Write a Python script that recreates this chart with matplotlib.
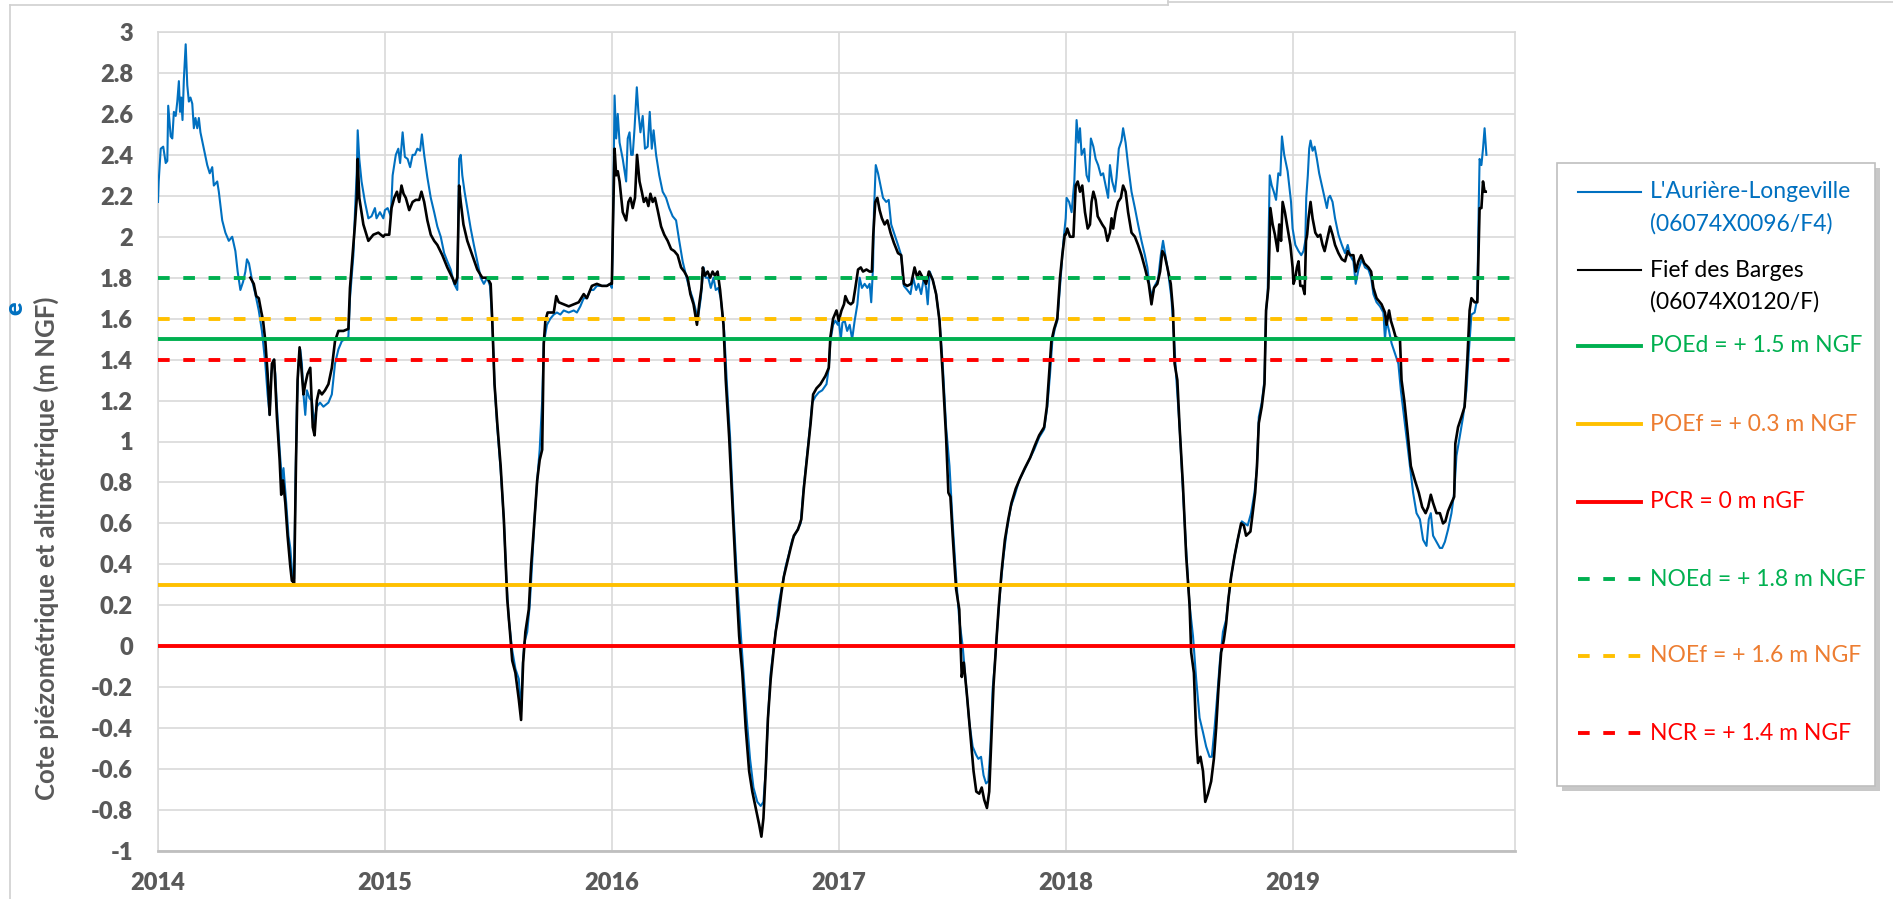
import numpy as np
import matplotlib
matplotlib.use("Agg")
import matplotlib.pyplot as plt
from matplotlib.lines import Line2D
from matplotlib.patches import Rectangle

plt.rcParams['font.family'] = ['Lato', 'DejaVu Sans']

W, H = 1893, 899

# --- piezometer levels, time given as fraction of each calendar year ---
BLUE_T = {
    2014: [0.000, 0.003, 0.012, 0.023, 0.034, 0.041, 0.045, 0.056, 0.063, 0.070, 0.078, 0.085, 0.092,
           0.097, 0.102, 0.108, 0.114, 0.122, 0.129, 0.136, 0.143, 0.151, 0.158, 0.165, 0.173, 0.180,
           0.187, 0.202, 0.217, 0.228, 0.239, 0.246, 0.261, 0.268, 0.283, 0.297, 0.312, 0.327, 0.341,
           0.351, 0.363, 0.375, 0.385, 0.392, 0.401, 0.414, 0.429, 0.444, 0.458, 0.473, 0.483, 0.492,
           0.499, 0.510, 0.517, 0.524, 0.536, 0.546, 0.553, 0.565, 0.575, 0.583, 0.594, 0.600, 0.606,
           0.612, 0.619, 0.627, 0.634, 0.641, 0.649, 0.656, 0.668, 0.678, 0.688, 0.700, 0.714, 0.729,
           0.751, 0.766, 0.780, 0.795, 0.810, 0.824, 0.839, 0.846, 0.861, 0.868, 0.876, 0.880, 0.887,
           0.897, 0.912, 0.927, 0.941, 0.956, 0.963, 0.978, 0.993],
    2015: [0.000, 0.012, 0.026, 0.034, 0.048, 0.059, 0.067, 0.078, 0.088, 0.100, 0.111, 0.122, 0.132,
           0.143, 0.155, 0.163, 0.173, 0.187, 0.202, 0.217, 0.231, 0.246, 0.261, 0.275, 0.290, 0.305,
           0.319, 0.327, 0.334, 0.341, 0.351, 0.363, 0.378, 0.392, 0.407, 0.422, 0.436, 0.451, 0.463,
           0.473, 0.483, 0.495, 0.510, 0.524, 0.536, 0.546, 0.561, 0.575, 0.590, 0.600, 0.608, 0.615,
           0.627, 0.638, 0.649, 0.659, 0.671, 0.682, 0.693, 0.700, 0.714, 0.729, 0.744, 0.758, 0.773,
           0.788, 0.810, 0.832, 0.846, 0.861, 0.876, 0.890, 0.905, 0.919, 0.934, 0.956, 0.978, 0.993],
    2016: [0.000, 0.004, 0.012, 0.019, 0.026, 0.034, 0.048, 0.063, 0.070, 0.078, 0.085, 0.092, 0.100,
           0.110, 0.117, 0.126, 0.136, 0.146, 0.158, 0.167, 0.176, 0.184, 0.195, 0.209, 0.224, 0.239,
           0.253, 0.268, 0.283, 0.297, 0.312, 0.327, 0.341, 0.356, 0.370, 0.378, 0.392, 0.404, 0.414,
           0.425, 0.436, 0.448, 0.458, 0.469, 0.480, 0.495, 0.507, 0.521, 0.536, 0.551, 0.565, 0.580,
           0.594, 0.609, 0.624, 0.641, 0.656, 0.668, 0.678, 0.688, 0.700, 0.714, 0.726, 0.736, 0.751,
           0.766, 0.780, 0.795, 0.814, 0.832, 0.843, 0.858, 0.873, 0.883, 0.897, 0.912, 0.927, 0.946,
           0.956, 0.963, 0.975, 0.985, 0.996],
    2017: [0.000, 0.009, 0.016, 0.026, 0.037, 0.048, 0.059, 0.070, 0.082, 0.092, 0.102, 0.114, 0.126,
           0.136, 0.143, 0.151, 0.155, 0.163, 0.173, 0.184, 0.195, 0.209, 0.220, 0.231, 0.246, 0.261,
           0.275, 0.287, 0.302, 0.316, 0.328, 0.341, 0.351, 0.363, 0.375, 0.385, 0.392, 0.401, 0.414,
           0.429, 0.444, 0.458, 0.473, 0.488, 0.502, 0.517, 0.531, 0.546, 0.561, 0.575, 0.590, 0.605,
           0.615, 0.627, 0.638, 0.649, 0.659, 0.668, 0.678, 0.688, 0.700, 0.712, 0.726, 0.741, 0.758,
           0.776, 0.795, 0.817, 0.839, 0.861, 0.883, 0.905, 0.919, 0.931, 0.941, 0.952, 0.963, 0.978,
           0.990],
    2018: [0.000, 0.004, 0.015, 0.026, 0.038, 0.048, 0.056, 0.063, 0.070, 0.082, 0.092, 0.102, 0.111,
           0.122, 0.132, 0.143, 0.155, 0.165, 0.176, 0.187, 0.195, 0.205, 0.217, 0.224, 0.234, 0.246,
           0.253, 0.264, 0.275, 0.290, 0.305, 0.319, 0.334, 0.349, 0.360, 0.370, 0.381, 0.392, 0.407,
           0.419, 0.429, 0.439, 0.451, 0.466, 0.477, 0.488, 0.502, 0.517, 0.531, 0.546, 0.561, 0.575,
           0.590, 0.605, 0.619, 0.634, 0.644, 0.656, 0.668, 0.679, 0.693, 0.707, 0.717, 0.729, 0.744,
           0.758, 0.776, 0.788, 0.802, 0.817, 0.832, 0.842, 0.851, 0.864, 0.876, 0.883, 0.890, 0.899,
           0.908, 0.917, 0.927, 0.937, 0.946, 0.953, 0.963, 0.978, 0.993],
    2019: [0.000, 0.012, 0.026, 0.038, 0.048, 0.056, 0.060, 0.067, 0.073, 0.079, 0.088, 0.097, 0.107,
           0.117, 0.129, 0.141, 0.151, 0.158, 0.165, 0.176, 0.187, 0.202, 0.217, 0.231, 0.243, 0.253,
           0.268, 0.278, 0.290, 0.305, 0.319, 0.334, 0.346, 0.356, 0.370, 0.385, 0.400, 0.407, 0.414,
           0.425, 0.436, 0.451, 0.466, 0.477, 0.488, 0.502, 0.517, 0.531, 0.546, 0.561, 0.575, 0.590,
           0.600, 0.609, 0.619, 0.634, 0.649, 0.659, 0.671, 0.685, 0.700, 0.712, 0.722, 0.736, 0.751,
           0.766, 0.776, 0.788, 0.802, 0.814, 0.820, 0.824, 0.832, 0.839, 0.846, 0.854],
}
BLUE_V = {
    2014: [2.17, 2.27, 2.43, 2.44, 2.36, 2.37, 2.64, 2.49, 2.48, 2.61, 2.59, 2.66, 2.76,
           2.61, 2.68, 2.57, 2.77, 2.94, 2.74, 2.66, 2.68, 2.65, 2.53, 2.58, 2.53, 2.58,
           2.51, 2.43, 2.35, 2.31, 2.34, 2.25, 2.27, 2.22, 2.08, 2.02, 1.98, 2.00, 1.93,
           1.83, 1.74, 1.78, 1.83, 1.89, 1.87, 1.79, 1.72, 1.64, 1.54, 1.38, 1.23, 1.13,
           1.33, 1.40, 1.33, 1.17, 0.96, 0.81, 0.87, 0.70, 0.54, 0.48, 0.32, 0.33, 0.81,
           1.17, 1.38, 1.45, 1.38, 1.23, 1.13, 1.25, 1.21, 1.20, 1.09, 1.17, 1.19, 1.17,
           1.19, 1.23, 1.38, 1.45, 1.49, 1.50, 1.51, 1.70, 1.91, 2.12, 2.32, 2.52, 2.38,
           2.27, 2.17, 2.09, 2.10, 2.14, 2.09, 2.12, 2.09],
    2015: [2.13, 2.14, 2.10, 2.30, 2.40, 2.43, 2.36, 2.51, 2.39, 2.38, 2.34, 2.40, 2.40,
           2.43, 2.42, 2.50, 2.40, 2.29, 2.19, 2.12, 2.05, 2.00, 1.92, 1.88, 1.84, 1.77,
           1.74, 2.38, 2.40, 2.30, 2.22, 2.14, 2.04, 1.96, 1.88, 1.80, 1.77, 1.80, 1.76,
           1.59, 1.28, 1.07, 0.86, 0.62, 0.31, 0.13, -0.02, -0.11, -0.16, -0.32, -0.08, 0.02,
           0.07, 0.20, 0.41, 0.62, 0.81, 0.96, 1.20, 1.48, 1.57, 1.60, 1.62, 1.63, 1.62,
           1.64, 1.63, 1.64, 1.63, 1.66, 1.70, 1.70, 1.74, 1.74, 1.76, 1.76, 1.76, 1.77],
    2016: [1.75, 1.96, 2.69, 2.48, 2.60, 2.46, 2.38, 2.27, 2.48, 2.51, 2.40, 2.40, 2.53,
           2.73, 2.61, 2.51, 2.59, 2.43, 2.44, 2.61, 2.43, 2.52, 2.40, 2.30, 2.22, 2.19,
           2.14, 2.10, 2.08, 1.98, 1.88, 1.81, 1.75, 1.70, 1.64, 1.59, 1.70, 1.85, 1.80,
           1.80, 1.75, 1.80, 1.74, 1.75, 1.70, 1.54, 1.28, 1.02, 0.65, 0.34, 0.11, -0.13,
           -0.35, -0.55, -0.69, -0.76, -0.78, -0.76, -0.61, -0.35, -0.13, 0.00, 0.11, 0.21, 0.30,
           0.39, 0.45, 0.52, 0.56, 0.60, 0.75, 0.91, 1.07, 1.19, 1.22, 1.24, 1.25, 1.28,
           1.36, 1.49, 1.57, 1.59, 1.57],
    2017: [1.59, 1.50, 1.58, 1.59, 1.54, 1.57, 1.50, 1.59, 1.67, 1.80, 1.75, 1.77, 1.75,
           1.77, 1.68, 1.85, 2.12, 2.35, 2.31, 2.25, 2.19, 2.17, 2.18, 2.06, 2.01, 1.96,
           1.91, 1.76, 1.74, 1.72, 1.80, 1.74, 1.77, 1.72, 1.80, 1.75, 1.67, 1.83, 1.79,
           1.72, 1.59, 1.38, 1.07, 0.88, 0.60, 0.34, 0.13, 0.00, -0.19, -0.37, -0.49, -0.53,
           -0.55, -0.54, -0.63, -0.67, -0.66, -0.50, -0.21, -0.08, 0.11, 0.28, 0.44, 0.57, 0.68,
           0.74, 0.81, 0.86, 0.91, 0.96, 1.02, 1.06, 1.17, 1.33, 1.49, 1.55, 1.59, 1.80,
           1.98],
    2018: [2.09, 2.19, 2.17, 2.12, 2.27, 2.57, 2.46, 2.53, 2.40, 2.43, 2.30, 2.27, 2.48,
           2.44, 2.38, 2.35, 2.30, 2.31, 2.25, 2.19, 2.35, 2.27, 2.22, 2.29, 2.43, 2.47,
           2.53, 2.46, 2.35, 2.22, 2.14, 2.06, 1.98, 1.91, 1.85, 1.75, 1.71, 1.76, 1.79,
           1.91, 1.98, 1.91, 1.83, 1.70, 1.51, 1.30, 1.07, 0.75, 0.47, 0.20, 0.05, -0.16,
           -0.35, -0.42, -0.49, -0.54, -0.54, -0.40, -0.24, -0.08, 0.07, 0.13, 0.23, 0.34, 0.44,
           0.52, 0.61, 0.60, 0.59, 0.65, 0.75, 0.86, 1.12, 1.19, 1.30, 1.64, 1.72, 2.30,
           2.25, 2.22, 2.18, 2.31, 2.30, 2.49, 2.40, 2.32, 2.17],
    2019: [2.04, 1.96, 1.93, 1.91, 1.93, 1.98, 2.19, 2.30, 2.43, 2.47, 2.42, 2.44, 2.38,
           2.31, 2.25, 2.19, 2.14, 2.19, 2.20, 2.17, 2.09, 2.01, 1.96, 1.92, 1.96, 1.91,
           1.88, 1.77, 1.84, 1.89, 1.85, 1.84, 1.80, 1.72, 1.68, 1.66, 1.63, 1.50, 1.59,
           1.54, 1.48, 1.43, 1.38, 1.25, 1.15, 1.02, 0.88, 0.75, 0.65, 0.62, 0.52, 0.49,
           0.62, 0.65, 0.54, 0.51, 0.48, 0.48, 0.51, 0.57, 0.65, 0.75, 0.93, 1.02, 1.12,
           1.25, 1.43, 1.62, 1.63, 1.70, 2.14, 2.38, 2.35, 2.43, 2.53, 2.40],
}

BLACK_T = {
    2014: [0.407, 0.422, 0.433, 0.444, 0.454, 0.463, 0.473, 0.483, 0.492, 0.502, 0.512, 0.524, 0.536,
           0.543, 0.551, 0.561, 0.571, 0.583, 0.590, 0.600, 0.608, 0.615, 0.624, 0.634, 0.641, 0.649,
           0.659, 0.671, 0.682, 0.690, 0.700, 0.710, 0.722, 0.736, 0.751, 0.766, 0.780, 0.795, 0.817,
           0.839, 0.846, 0.861, 0.868, 0.876, 0.880, 0.887, 0.905, 0.927, 0.949, 0.971, 0.993],
    2015: [0.000, 0.019, 0.029, 0.041, 0.053, 0.063, 0.073, 0.082, 0.092, 0.107, 0.122, 0.136, 0.151,
           0.161, 0.173, 0.187, 0.202, 0.217, 0.231, 0.253, 0.275, 0.297, 0.309, 0.319, 0.327, 0.334,
           0.346, 0.363, 0.385, 0.407, 0.429, 0.451, 0.466, 0.473, 0.483, 0.495, 0.510, 0.524, 0.539,
           0.551, 0.561, 0.575, 0.590, 0.600, 0.609, 0.619, 0.634, 0.644, 0.656, 0.671, 0.682, 0.693,
           0.700, 0.707, 0.717, 0.729, 0.744, 0.755, 0.766, 0.788, 0.810, 0.832, 0.854, 0.876, 0.890,
           0.912, 0.934, 0.956, 0.978, 0.993],
    2016: [0.000, 0.004, 0.012, 0.019, 0.026, 0.034, 0.048, 0.063, 0.073, 0.082, 0.092, 0.102, 0.111,
           0.122, 0.132, 0.141, 0.151, 0.161, 0.170, 0.180, 0.190, 0.202, 0.217, 0.231, 0.246, 0.261,
           0.275, 0.290, 0.305, 0.319, 0.334, 0.346, 0.360, 0.375, 0.385, 0.395, 0.401, 0.410, 0.422,
           0.433, 0.444, 0.454, 0.466, 0.477, 0.492, 0.502, 0.517, 0.531, 0.546, 0.561, 0.575, 0.590,
           0.605, 0.619, 0.634, 0.649, 0.659, 0.668, 0.678, 0.688, 0.700, 0.712, 0.722, 0.734, 0.747,
           0.758, 0.773, 0.788, 0.802, 0.820, 0.835, 0.846, 0.861, 0.876, 0.887, 0.902, 0.919, 0.941,
           0.956, 0.963, 0.975, 0.990],
    2017: [0.000, 0.012, 0.023, 0.029, 0.041, 0.053, 0.063, 0.073, 0.085, 0.097, 0.107, 0.122, 0.136,
           0.146, 0.152, 0.161, 0.170, 0.180, 0.190, 0.202, 0.214, 0.228, 0.243, 0.261, 0.275, 0.287,
           0.302, 0.319, 0.334, 0.346, 0.356, 0.370, 0.385, 0.397, 0.414, 0.429, 0.444, 0.458, 0.473,
           0.483, 0.492, 0.502, 0.517, 0.531, 0.542, 0.551, 0.565, 0.580, 0.594, 0.606, 0.619, 0.630,
           0.641, 0.653, 0.663, 0.673, 0.682, 0.693, 0.704, 0.717, 0.732, 0.747, 0.761, 0.780, 0.799,
           0.820, 0.843, 0.864, 0.883, 0.905, 0.917, 0.927, 0.937, 0.949, 0.963, 0.975, 0.985, 0.996],
    2018: [0.000, 0.007, 0.019, 0.034, 0.044, 0.053, 0.063, 0.073, 0.085, 0.097, 0.107, 0.114, 0.122,
           0.132, 0.141, 0.151, 0.161, 0.173, 0.184, 0.195, 0.202, 0.209, 0.220, 0.231, 0.243, 0.253,
           0.264, 0.275, 0.290, 0.305, 0.319, 0.334, 0.351, 0.366, 0.378, 0.389, 0.404, 0.416, 0.426,
           0.436, 0.448, 0.463, 0.473, 0.480, 0.492, 0.502, 0.517, 0.531, 0.546, 0.553, 0.565, 0.575,
           0.583, 0.594, 0.605, 0.615, 0.627, 0.641, 0.653, 0.663, 0.673, 0.685, 0.697, 0.707, 0.717,
           0.729, 0.744, 0.758, 0.773, 0.785, 0.795, 0.814, 0.824, 0.835, 0.843, 0.851, 0.864, 0.876,
           0.883, 0.893, 0.902, 0.912, 0.922, 0.934, 0.941, 0.949, 0.956, 0.966, 0.978, 0.990],
    2019: [0.000, 0.004, 0.012, 0.019, 0.026, 0.034, 0.044, 0.053, 0.059, 0.064, 0.070, 0.079, 0.088,
           0.100, 0.111, 0.122, 0.132, 0.141, 0.151, 0.165, 0.176, 0.187, 0.202, 0.217, 0.231, 0.243,
           0.253, 0.268, 0.278, 0.290, 0.302, 0.316, 0.334, 0.346, 0.356, 0.370, 0.392, 0.407, 0.414,
           0.425, 0.433, 0.444, 0.454, 0.473, 0.480, 0.492, 0.507, 0.521, 0.539, 0.556, 0.571, 0.586,
           0.597, 0.609, 0.619, 0.634, 0.649, 0.663, 0.673, 0.685, 0.700, 0.712, 0.717, 0.729, 0.744,
           0.758, 0.770, 0.780, 0.788, 0.802, 0.814, 0.824, 0.832, 0.839, 0.846, 0.851],
}
BLACK_V = {
    2014: [1.80, 1.77, 1.71, 1.70, 1.64, 1.59, 1.49, 1.33, 1.13, 1.38, 1.40, 1.12, 0.91,
           0.74, 0.81, 0.70, 0.54, 0.39, 0.32, 0.31, 0.89, 1.30, 1.46, 1.33, 1.23, 1.28,
           1.33, 1.36, 1.07, 1.03, 1.20, 1.25, 1.23, 1.25, 1.28, 1.36, 1.49, 1.54, 1.54,
           1.55, 1.75, 1.96, 2.06, 2.19, 2.38, 2.19, 2.06, 1.98, 2.01, 2.02, 2.00],
    2015: [2.01, 2.01, 2.14, 2.19, 2.22, 2.17, 2.25, 2.21, 2.19, 2.13, 2.17, 2.18, 2.18,
           2.22, 2.17, 2.08, 2.01, 1.98, 1.96, 1.91, 1.85, 1.80, 1.77, 1.80, 2.25, 2.17,
           2.06, 1.98, 1.91, 1.84, 1.80, 1.80, 1.77, 1.59, 1.28, 1.09, 0.88, 0.62, 0.23,
           0.07, -0.07, -0.13, -0.26, -0.36, -0.08, 0.07, 0.18, 0.39, 0.57, 0.81, 0.91, 0.96,
           1.48, 1.59, 1.63, 1.63, 1.63, 1.71, 1.68, 1.67, 1.66, 1.67, 1.68, 1.72, 1.70,
           1.76, 1.77, 1.76, 1.76, 1.77],
    2016: [1.77, 2.01, 2.43, 2.30, 2.32, 2.27, 2.12, 2.08, 2.17, 2.19, 2.14, 2.19, 2.40,
           2.27, 2.22, 2.17, 2.19, 2.15, 2.21, 2.17, 2.19, 2.13, 2.05, 2.01, 1.98, 1.94,
           1.93, 1.91, 1.85, 1.83, 1.80, 1.72, 1.67, 1.57, 1.67, 1.75, 1.85, 1.81, 1.83,
           1.80, 1.83, 1.81, 1.83, 1.74, 1.57, 1.30, 1.02, 0.70, 0.36, 0.05, -0.13, -0.40,
           -0.61, -0.71, -0.79, -0.87, -0.93, -0.84, -0.61, -0.35, -0.16, -0.03, 0.07, 0.15, 0.26,
           0.34, 0.41, 0.48, 0.54, 0.57, 0.62, 0.77, 0.93, 1.09, 1.23, 1.26, 1.28, 1.32,
           1.36, 1.51, 1.60, 1.64],
    2017: [1.59, 1.64, 1.67, 1.71, 1.68, 1.67, 1.68, 1.75, 1.84, 1.85, 1.83, 1.84, 1.83,
           1.83, 2.01, 2.17, 2.19, 2.13, 2.09, 2.06, 2.08, 2.02, 1.97, 1.92, 1.91, 1.77,
           1.76, 1.77, 1.85, 1.80, 1.83, 1.80, 1.77, 1.83, 1.79, 1.72, 1.59, 1.33, 1.02,
           0.75, 0.73, 0.54, 0.28, 0.18, -0.15, -0.08, -0.24, -0.43, -0.61, -0.71, -0.72, -0.69,
           -0.75, -0.79, -0.71, -0.43, -0.19, 0.00, 0.18, 0.36, 0.52, 0.62, 0.70, 0.77, 0.82,
           0.87, 0.92, 0.98, 1.03, 1.07, 1.17, 1.33, 1.49, 1.55, 1.60, 1.80, 1.91, 2.01],
    2018: [2.01, 2.04, 2.00, 2.00, 2.25, 2.27, 2.22, 2.25, 2.12, 2.04, 2.06, 2.17, 2.22,
           2.18, 2.10, 2.08, 2.06, 2.04, 1.98, 2.02, 2.09, 2.04, 2.12, 2.17, 2.19, 2.25,
           2.22, 2.12, 2.02, 2.00, 1.96, 1.91, 1.84, 1.77, 1.67, 1.75, 1.77, 1.83, 1.93,
           1.91, 1.85, 1.77, 1.64, 1.38, 1.30, 1.07, 0.78, 0.44, 0.20, -0.03, -0.13, -0.43,
           -0.57, -0.54, -0.61, -0.76, -0.72, -0.66, -0.55, -0.40, -0.21, -0.03, 0.03, 0.11, 0.23,
           0.34, 0.44, 0.52, 0.60, 0.59, 0.54, 0.56, 0.65, 0.75, 0.88, 1.09, 1.17, 1.28,
           1.64, 1.75, 2.14, 2.06, 2.01, 1.93, 2.06, 1.98, 2.17, 2.12, 2.04, 1.96],
    2019: [1.85, 1.77, 1.80, 1.85, 1.88, 1.76, 1.76, 1.72, 1.98, 2.01, 2.09, 2.17, 2.09,
           2.02, 2.00, 2.01, 1.96, 1.93, 1.98, 2.05, 2.01, 1.96, 1.92, 1.89, 1.88, 1.93,
           1.91, 1.91, 1.83, 1.88, 1.91, 1.87, 1.85, 1.83, 1.75, 1.70, 1.67, 1.63, 1.57,
           1.64, 1.59, 1.55, 1.51, 1.50, 1.30, 1.20, 1.04, 0.88, 0.81, 0.75, 0.68, 0.65,
           0.68, 0.74, 0.70, 0.65, 0.65, 0.60, 0.61, 0.66, 0.70, 0.73, 0.99, 1.07, 1.12,
           1.17, 1.40, 1.64, 1.70, 1.68, 1.68, 2.14, 2.14, 2.27, 2.22, 2.22],
}

YEARS = [2014, 2015, 2016, 2017, 2018, 2019]
YTICKS = [-1, -0.8, -0.6, -0.4, -0.2, 0, 0.2, 0.4, 0.6, 0.8, 1, 1.2, 1.4, 1.6, 1.8, 2,
          2.2, 2.4, 2.6, 2.8, 3]

SERIES_LABELS = ["L'Aurière-Longeville\n(06074X0096/F4)", "Fief des Barges\n(06074X0120/F)"]
SERIES_COLORS = ['#0070C0', '#000000']

THRESH_LABELS = ['POEd = + 1.5 m NGF', 'POEf = + 0.3 m NGF', 'PCR = 0 m nGF',
                 'NOEd = + 1.8 m NGF', 'NOEf = + 1.6 m NGF', 'NCR = + 1.4 m NGF']
THRESH_VALUES = [1.5, 0.3, 0.0, 1.8, 1.6, 1.4]
THRESH_COLORS = ['#00B050', '#FFC000', '#FF0000', '#00B050', '#FFC000', '#FF0000']
THRESH_TEXT_COLORS = ['#00B050', '#ED7D31', '#FF0000', '#00B050', '#ED7D31', '#FF0000']
THRESH_DASHED = [False, False, False, True, True, True]


def join(tdict, vdict):
    t, v = [], []
    for y in YEARS:
        t += [y + f for f in tdict[y]]
        v += vdict[y]
    return np.array(t), np.array(v)


def fx(px):
    return px / W


def fy(py):
    return 1 - py / H


GRAY = '#595959'
DASH = (3.0, 3.5)

fig = plt.figure(figsize=(W / 100, H / 100), dpi=100)
ax = fig.add_axes([fx(158), fy(851), fx(1515) - fx(158), fy(32) - fy(851)])

bt, bv = join(BLUE_T, BLUE_V)
kt, kv = join(BLACK_T, BLACK_V)
ax.plot(bt, bv, color=SERIES_COLORS[0], lw=1.5, zorder=3)
ax.plot(kt, kv, color=SERIES_COLORS[1], lw=1.9, zorder=4)

for val, col, dashed in zip(THRESH_VALUES, THRESH_COLORS, THRESH_DASHED):
    ln = ax.axhline(val, color=col, lw=2.8, zorder=5)
    if dashed:
        ln.set_dashes(DASH)
        ln.set_dash_capstyle('butt')

ax.set_xlim(2014, 2019.98)
ax.set_ylim(-1, 3)
ax.set_xticks(YEARS)
ax.set_xticklabels([str(y) for y in YEARS])
ax.set_yticks(YTICKS)
ax.set_yticklabels(['%g' % v for v in YTICKS])
ax.grid(True, color='#D9D9D9', lw=1.2, zorder=0)
ax.set_axisbelow(True)
ax.tick_params(axis='both', length=0, labelsize=17, labelcolor=GRAY)
ax.tick_params(axis='y', pad=18)
ax.tick_params(axis='x', pad=15)
for lab in ax.get_xticklabels() + ax.get_yticklabels():
    lab.set_fontweight('heavy')
for side in ['left', 'right', 'top']:
    ax.spines[side].set_color('#D9D9D9')
    ax.spines[side].set_linewidth(1.2)
ax.spines['bottom'].set_color('#BFBFBF')
ax.spines['bottom'].set_linewidth(2)

ax.set_ylabel('Cote piézométrique et altimétrique (m NGF)', fontsize=18.5,
              fontweight='bold', color=GRAY)
ax.yaxis.set_label_coords(-0.073, 0.37)

# blue title letter at the very left
fig.text(fx(15), fy(308), 'e', rotation=90, fontsize=18, fontweight='heavy',
         color='#0070C0', ha='center', va='center')

# screenshot frame lines
frame = dict(color='#D0D0D0', lw=1.2, transform=fig.transFigure)
fig.add_artist(Line2D([fx(10), fx(10)], [fy(5), 0], **frame))
fig.add_artist(Line2D([fx(10), fx(1168)], [fy(5), fy(5)], **frame))
fig.add_artist(Line2D([fx(1168), fx(1168)], [fy(5), 1], **frame))
fig.add_artist(Line2D([fx(1168), 1], [fy(2), fy(2)], **frame))

# legend box drawn by hand
lx0, lx1, ly0, ly1 = 1557, 1875, 163, 786
fig.add_artist(Rectangle((fx(lx0 + 5), fy(ly1 + 5)), fx(lx1 - lx0), fy(ly0) - fy(ly1),
                         transform=fig.transFigure, facecolor='#C8C8C8', edgecolor='none',
                         zorder=1))
fig.add_artist(Rectangle((fx(lx0), fy(ly1)), fx(lx1 - lx0), fy(ly0) - fy(ly1),
                         transform=fig.transFigure, facecolor='white', edgecolor='#BFBFBF',
                         lw=1.2, zorder=2))

rows_y = [192, 270, 346, 424, 502, 579, 656, 733]
labels = SERIES_LABELS + THRESH_LABELS
hcolors = SERIES_COLORS + THRESH_COLORS
tcolors = SERIES_COLORS + THRESH_TEXT_COLORS
hwidths = [1.5, 1.5] + [2.8] * 6
hdashed = [False, False] + THRESH_DASHED
for y, lab, hc, tc, lw, dsh in zip(rows_y, labels, hcolors, tcolors, hwidths, hdashed):
    ln = Line2D([fx(1578), fx(1641)], [fy(y), fy(y)], color=hc, lw=lw,
                transform=fig.transFigure, zorder=3)
    if dsh:
        ln.set_dashes(DASH)
        ln.set_dash_capstyle('butt')
    fig.add_artist(ln)
    for i, part in enumerate(lab.split('\n')):
        fig.text(fx(1650), fy(y + 32 * i), part, fontsize=16.5, color=tc,
                 ha='left', va='center', zorder=3)

fig.savefig('out.png', dpi=100)
